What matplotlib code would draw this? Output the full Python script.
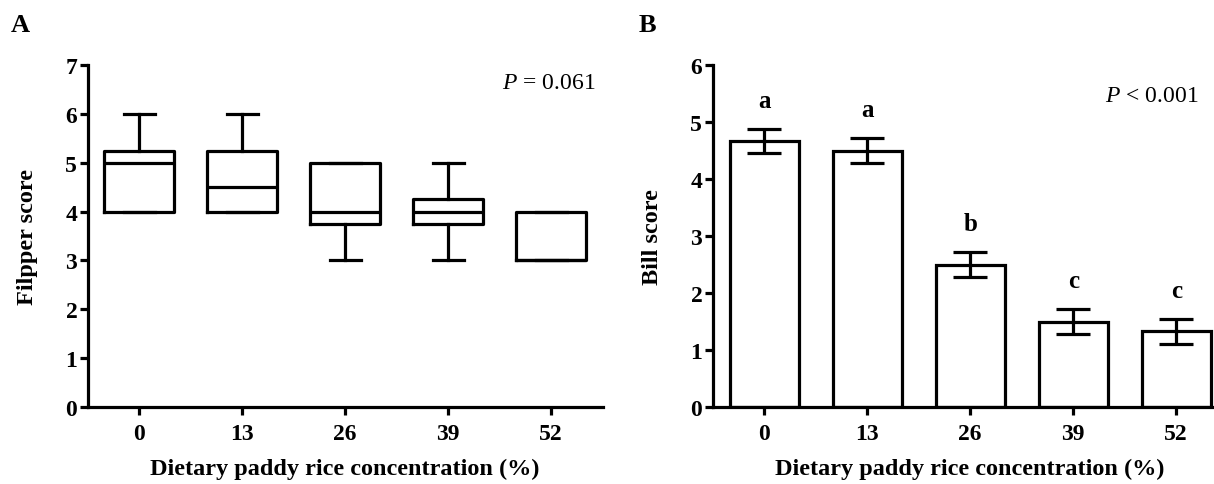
import matplotlib
matplotlib.use("Agg")
import matplotlib.pyplot as plt
import numpy as np

# ---------------------------------------------------------------- data
levels = ["0", "13", "26", "39", "52"]

# panel A: box plot stats for filpper score
fl_min = [4, 4, 3, 3, 3]
fl_q1 = [4, 4, 3.75, 3.75, 3]
fl_med = [5, 4.5, 4, 4, 3]
fl_q3 = [5.25, 5.25, 5, 4.25, 4]
fl_max = [6, 6, 5, 5, 4]

# panel B: bill score mean +/- SE
bill_mean = [4.67, 4.50, 2.50, 1.50, 1.33]
bill_se = [0.21, 0.22, 0.22, 0.22, 0.22]
bill_letters = ["a", "a", "b", "c", "c"]

p_text_a = "= 0.061"
p_text_b = "< 0.001"

# ---------------------------------------------------------------- style
SERIF = ["Liberation Serif", "DejaVu Serif"]
LW = 2.3
plt.rcParams.update({
    "font.family": SERIF,
    "font.weight": "bold",
    "mathtext.fontset": "custom",
    "mathtext.it": "Liberation Serif:italic:normal",
    "mathtext.rm": "Liberation Serif:normal",
    "axes.linewidth": LW,
    "xtick.major.width": LW,
    "ytick.major.width": LW,
    "xtick.major.size": 5.5,
    "ytick.major.size": 5.5,
})
TICK_FS = 17
LABEL_FS = 17.5
W, H = 1214, 485

fig = plt.figure(figsize=(W / 100, H / 100), dpi=100)
ax_a = fig.add_axes([87.7 / W, 77 / H, 515 / W, 342 / H])
ax_b = fig.add_axes([712.7 / W, 77 / H, 515 / W, 342 / H])

pos = np.arange(len(levels))


def style_axes(ax, ymax, ylabel):
    ax.set_xlim(-0.5, len(levels) - 0.5)
    ax.set_ylim(0, ymax)
    ax.set_yticks(range(ymax + 1))
    ax.set_xticks(pos)
    ax.set_xticklabels(levels)
    for s in ("top", "right"):
        ax.spines[s].set_visible(False)
    ax.tick_params(axis="x", labelsize=TICK_FS, pad=6)
    ax.tick_params(axis="y", labelsize=TICK_FS, pad=2)
    for t in ax.get_xticklabels() + ax.get_yticklabels():
        t.set_fontweight("bold")
    ax.set_xlabel("Dietary paddy rice concentration (%)", fontsize=LABEL_FS,
                  fontweight="bold")
    ax.set_ylabel(ylabel, fontsize=LABEL_FS, fontweight="bold")
    ax.xaxis.set_label_coords(0.5, -0.15)
    ax.yaxis.set_label_coords(-0.096, 0.5)


# ---------------------------------------------------------------- panel A
stats = []
for i in range(len(levels)):
    stats.append({"whislo": fl_min[i], "q1": fl_q1[i], "med": fl_med[i],
                  "q3": fl_q3[i], "whishi": fl_max[i], "fliers": []})
line = dict(color="black", linewidth=LW)
ax_a.bxp(stats, positions=pos, widths=0.68, showfliers=False,
         boxprops=line, medianprops=line, whiskerprops=line, capprops=line,
         capwidths=0.3, manage_ticks=False)
style_axes(ax_a, 7, "Filpper score")
ax_a.text(0.985, 0.95, r"$P$ " + p_text_a, transform=ax_a.transAxes,
          ha="right", va="center", fontsize=17, fontweight="normal")

# ---------------------------------------------------------------- panel B
ax_b.bar(pos, bill_mean, width=0.67, color="white", edgecolor="black",
         linewidth=LW, zorder=2)
ax_b.errorbar(pos, bill_mean, yerr=bill_se, fmt="none", ecolor="black",
              elinewidth=LW, capsize=12, capthick=LW, zorder=3)
for x, m, se, lab in zip(pos, bill_mean, bill_se, bill_letters):
    ax_b.text(x, m + se + 0.5, lab, ha="center", va="center",
              fontsize=18, fontweight="bold")
style_axes(ax_b, 6, "Bill score")
ax_b.text(0.944, 0.912, r"$P$ " + p_text_b, transform=ax_b.transAxes,
          ha="right", va="center", fontsize=17, fontweight="normal")

# ---------------------------------------------------------------- panel tags
fig.text(20 / W, 1 - 25 / H, "A", ha="center", va="center", fontsize=19,
         fontweight="bold")
fig.text(647 / W, 1 - 25 / H, "B", ha="center", va="center", fontsize=19,
         fontweight="bold")

fig.savefig("out.png", dpi=100, facecolor="white")
